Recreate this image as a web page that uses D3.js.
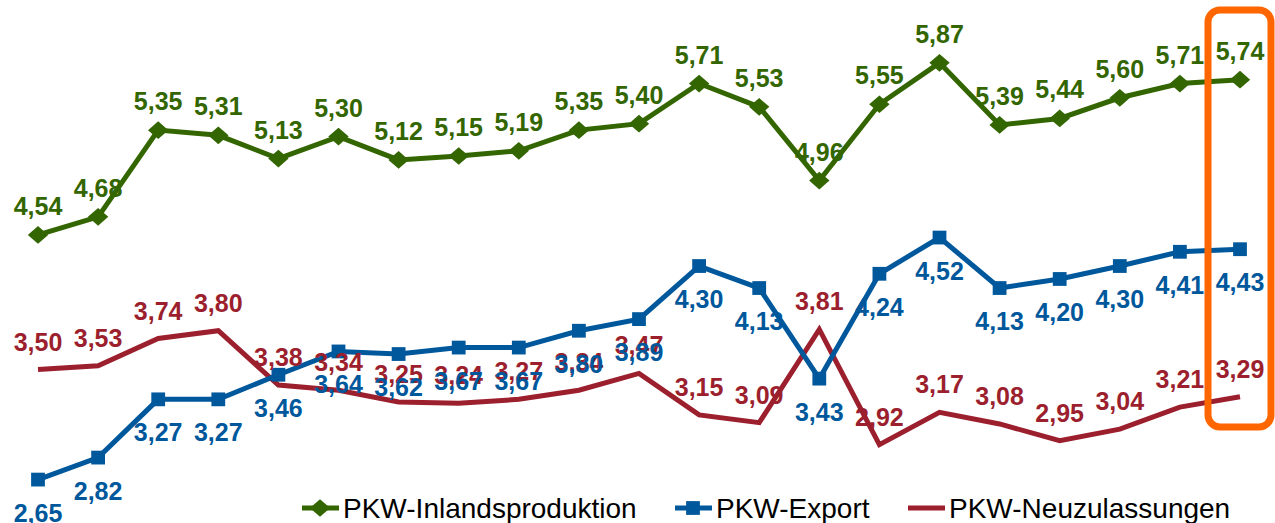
<!DOCTYPE html>
<html>
<head>
<meta charset="utf-8">
<script src="https://cdn.jsdelivr.net/npm/d3@7"></script>
<style>
  html, body { margin: 0; padding: 0; background: #fff; }
  svg { display: block; font-family: "Liberation Sans", Arial, sans-serif; }
</style>
</head>
<body>
<div id="chart"></div>
<script>
const periods = d3.range(21)
const inland = [4.54, 4.68, 5.35, 5.31, 5.13, 5.30, 5.12, 5.15, 5.19, 5.35, 5.40, 5.71, 5.53, 4.96, 5.55, 5.87, 5.39, 5.44, 5.60, 5.71, 5.74]
const exportVals = [2.65, 2.82, 3.27, 3.27, 3.46, 3.64, 3.62, 3.67, 3.67, 3.80, 3.89, 4.30, 4.13, 3.43, 4.24, 4.52, 4.13, 4.20, 4.30, 4.41, 4.43]
const neuzul = [3.50, 3.53, 3.74, 3.80, 3.38, 3.34, 3.25, 3.24, 3.27, 3.34, 3.47, 3.15, 3.09, 3.81, 2.92, 3.17, 3.08, 2.95, 3.04, 3.21, 3.29]
const seriesNames = ['PKW-Inlandsproduktion', 'PKW-Export', 'PKW-Neuzulassungen']

const width = 1275, height = 523
const green = '#336600', blue = '#00589C', red = '#9C1F2E'

const x = d3.scaleLinear().domain([0, 20]).range([38, 1240])
const y = d3.scaleLinear().domain([2.5, 6.0]).range([499, 46])

const fmt = v => d3.format('.2f')(v).replace('.', ',')

const svg = d3.select('#chart').append('svg')
    .attr('width', width)
    .attr('height', height)

const line = d3.line()
    .x((d, i) => x(periods[i]))
    .y(d => y(d))

const series = [
    {name: seriesNames[0], values: inland, color: green, marker: 'diamond', labelDy: -20},
    {name: seriesNames[1], values: exportVals, color: blue, marker: 'square', labelDy: 42},
    {name: seriesNames[2], values: neuzul, color: red, marker: null, labelDy: -19}
]

const diamond = d3.symbol().type(d3.symbolDiamond2).size(200)
const square = d3.symbol().type(d3.symbolSquare).size(190)

// lines first, red under blue so blue stays on top like the original
const drawOrder = [2, 1, 0]
drawOrder.forEach(k => {
    const s = series[k]
    svg.append('path')
        .datum(s.values)
        .attr('fill', 'none')
        .attr('stroke', s.color)
        .attr('stroke-width', 5)
        .attr('stroke-linejoin', 'miter')
        .attr('d', line)
    if (s.marker) {
        svg.append('g').selectAll('path')
            .data(s.values)
            .join('path')
            .attr('transform', (d, i) => `translate(${x(periods[i])},${y(d)})` + (s.marker === 'diamond' ? ' scale(1.15,1)' : ''))
            .attr('d', s.marker === 'diamond' ? diamond : square)
            .attr('fill', s.color)
    }
})

// data labels
drawOrder.forEach(k => {
    const s = series[k]
    svg.append('g').selectAll('text')
        .data(s.values)
        .join('text')
        .attr('x', (d, i) => x(periods[i]))
        .attr('y', d => y(d) + s.labelDy)
        .attr('text-anchor', 'middle')
        .attr('font-size', '25px')
        .attr('font-weight', 'bold')
        .attr('fill', s.color)
        .text(fmt)
})

// highlight box around last period
svg.append('rect')
    .attr('x', x(20) - 32)
    .attr('y', 10)
    .attr('width', 63)
    .attr('height', 417)
    .attr('rx', 12)
    .attr('fill', 'none')
    .attr('stroke', '#FF6600')
    .attr('stroke-width', 7)

// legend
const legendX = [302, 675, 908]
const legend = svg.append('g')
series.forEach((s, k) => {
    const g = legend.append('g').attr('transform', `translate(${legendX[k]},508)`)
    g.append('line')
        .attr('x1', 0).attr('x2', 37)
        .attr('stroke', s.color)
        .attr('stroke-width', 5)
    if (s.marker) {
        g.append('path')
            .attr('transform', 'translate(18,0)' + (s.marker === 'diamond' ? ' scale(1.15,1)' : ''))
            .attr('d', s.marker === 'diamond' ? diamond : square)
            .attr('fill', s.color)
    }
    g.append('text')
        .attr('x', 41)
        .attr('y', 10)
        .attr('font-size', '28px')
        .attr('fill', '#000')
        .text(s.name)
})
</script>
</body>
</html>
